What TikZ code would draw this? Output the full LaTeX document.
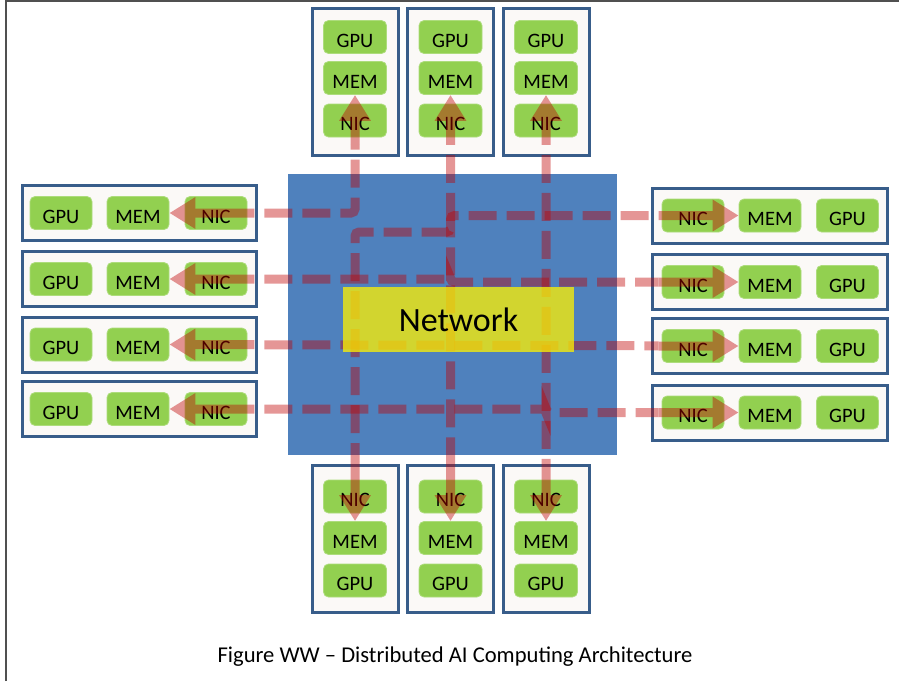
\documentclass[tikz,border=0pt]{standalone}
\usepackage{fontspec}
\setmainfont{Carlito}
\usetikzlibrary{arrows.meta}
\definecolor{boxblue}{RGB}{56,93,138}
\definecolor{netblue}{RGB}{79,129,189}
\definecolor{grn}{RGB}{146,208,80}
\definecolor{arr}{RGB}{192,0,0}
\definecolor{srvfill}{RGB}{251,249,247}
\definecolor{framegray}{RGB}{80,80,80}
\begin{document}
\begin{tikzpicture}[x=1pt,y=-1pt,
  srvV/.style={draw=boxblue,line width=3pt,fill=srvfill,minimum width=86pt,minimum height=147pt,inner sep=0pt},
  srvH/.style={draw=boxblue,line width=3pt,fill=srvfill,minimum width=234pt,minimum height=55pt,inner sep=0pt},
  part/.style={fill=grn,draw=grn!75!white,line width=0.8pt,rounded corners=5pt,minimum width=63pt,minimum height=33pt,inner sep=0pt,text height=20.9pt,text depth=0pt,font=\fontsize{20.5}{24}\selectfont},
  conn/.style={transparency group,opacity=0.41},
  dashline/.style={draw=arr,line width=9pt,dash pattern=on 28pt off 10pt,dash phase=28pt,rounded corners=4pt},
  solidarrow/.style={draw=arr,line width=9pt,-{Triangle[length=26pt,width=30pt]}},
]
\useasboundingbox (0,0) rectangle (899,681);
\fill[white] (0,0) rectangle (899,681);
\draw[framegray,line width=1.8pt] (6,681) -- (6,0.9) -- (899,0.9);

% network
\node[fill=netblue,minimum width=329pt,minimum height=281pt,inner sep=0pt] (net) at (452.5,314.5) {};

% vertical servers
\foreach \i/\x in {1/355,2/450.5,3/546} {
  \node[srvV] (T\i) at (\x,81.5) {};
  \node[part] (Tg\i) at (\x,37) {GPU};
  \node[part] (Tm\i) at (\x,78) {MEM};
  \node[part] (Tn\i) at (\x,120.5) {NIC};
  \node[srvV] (B\i) at (\x,539) {};
  \node[part] (Bn\i) at (\x,496.5) {NIC};
  \node[part] (Bm\i) at (\x,538) {MEM};
  \node[part] (Bg\i) at (\x,580.5) {GPU};
}
% horizontal servers
\foreach \i/\y in {1/213,2/279,3/344.5,4/409} {
  \node[srvH] (L\i) at (139,\y) {};
  \node[part,minimum width=62pt] (Lg\i) at (61,\y) {GPU};
  \node[part,minimum width=62pt] (Lm\i) at (138,\y) {MEM};
  \node[part,minimum width=62pt] (Ln\i) at (216,\y) {NIC};
}
\foreach \i/\y in {1/215.5,2/282,3/346,4/412.5} {
  \node[srvH,minimum width=235pt] (R\i) at (769.5,\y) {};
  \node[part,minimum width=62pt] (Rn\i) at (693,\y) {NIC};
  \node[part,minimum width=62pt] (Rm\i) at (770,\y) {MEM};
  \node[part,minimum width=62pt] (Rg\i) at (847.5,\y) {GPU};
}

\coordinate (c232) at (0,232);

% connectors
% left1 <-> top1
\begin{scope}[conn]
\draw[dashline,shorten <=85pt,shorten >=50pt] (Lm1.east) -| (Tm1.south);
\draw[solidarrow] ([xshift=85pt]Lm1.east) -- (Lm1.east);
\draw[solidarrow] ([yshift=-50pt]Tm1.south) -- (Tm1.south);
\end{scope}
% top2 <-> bottom1
\begin{scope}[conn]
\draw[dashline,shorten <=50pt,shorten >=60pt] (Tm2.south) -- (Tm2.south |- c232) -- (Bm1.north |- c232) -- (Bm1.north);
\draw[solidarrow] ([yshift=-50pt]Tm2.south) -- (Tm2.south);
\draw[solidarrow] ([yshift=60pt]Bm1.north) -- (Bm1.north);
\end{scope}
% right1 <-> bottom2
\begin{scope}[conn]
\draw[dashline,shorten <=80pt,shorten >=60pt] (Rm1.west) -| (Bm2.north);
\draw[solidarrow] ([xshift=-80pt]Rm1.west) -- (Rm1.west);
\draw[solidarrow] ([yshift=60pt]Bm2.north) -- (Bm2.north);
\end{scope}
% top3 <-> bottom3
\begin{scope}[conn]
\draw[dashline,shorten <=50pt,shorten >=60pt] (Tm3.south) -- (Bm3.north);
\draw[solidarrow] ([yshift=-50pt]Tm3.south) -- (Tm3.south);
\draw[solidarrow] ([yshift=60pt]Bm3.north) -- (Bm3.north);
\end{scope}
% left2 <-> right2
\begin{scope}[conn]
\draw[dashline,shorten <=85pt,shorten >=80pt] (Lm2.east) -- (Lm2.east -| Bm2.north) -- (Rm2.west -| Bm2.north) -- (Rm2.west);
\draw[solidarrow] ([xshift=85pt]Lm2.east) -- (Lm2.east);
\draw[solidarrow] ([xshift=-80pt]Rm2.west) -- (Rm2.west);
\end{scope}
% left3 <-> right3
\begin{scope}[conn]
\draw[dashline,shorten <=85pt,shorten >=80pt] (Lm3.east) -- (Rm3.west);
\draw[solidarrow] ([xshift=85pt]Lm3.east) -- (Lm3.east);
\draw[solidarrow] ([xshift=-80pt]Rm3.west) -- (Rm3.west);
\end{scope}
% left4 <-> right4
\begin{scope}[conn]
\draw[dashline,shorten <=85pt,shorten >=80pt] (Lm4.east) -- (Lm4.east -| Bm3.north) -- (Rm4.west -| Bm3.north) -- (Rm4.west);
\draw[solidarrow] ([xshift=85pt]Lm4.east) -- (Lm4.east);
\draw[solidarrow] ([xshift=-80pt]Rm4.west) -- (Rm4.west);
\end{scope}

% network label
\node[fill=yellow,fill opacity=0.75,text opacity=1,minimum width=231pt,minimum height=65pt,inner sep=0pt,font=\fontsize{34}{40}\selectfont] (netlbl) at (458.5,319.5) {Network};

% caption
\node[anchor=base,inner sep=0pt,font=\fontsize{22.6}{27}\selectfont] (cap) at (455,662) {Figure WW – Distributed AI Computing Architecture};
\end{tikzpicture}
\end{document}
